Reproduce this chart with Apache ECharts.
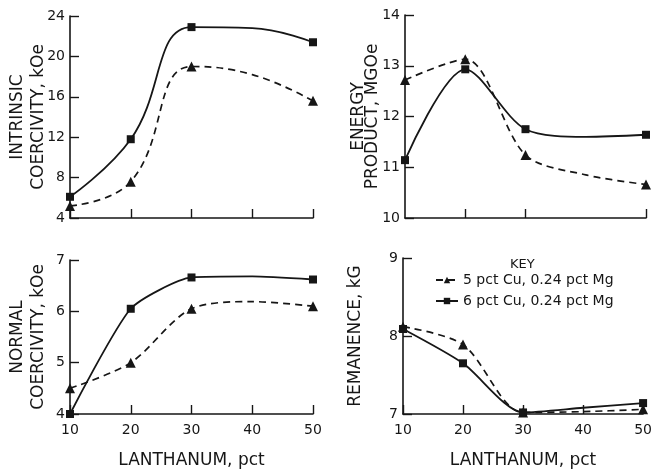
<!DOCTYPE html>
<html>
<head>
<meta charset="utf-8">
<script src="https://cdn.jsdelivr.net/npm/echarts@6/dist/echarts.min.js"></script>
<style>
  html, body { margin: 0; padding: 0; background: #fff; }
  #chart { width: 655px; height: 470px; }
</style>
</head>
<body>
<div id="chart"></div>
<script>
// Lanthanum content, pct (x positions shared by all four panels)
const lanthanum = [10, 20, 30, 40, 50];
// Measured compositions carry markers; 40 pct is a reading off the drawn curve
const measured = [true, true, true, false, true];

const seriesNames = ['5 pct Cu, 0.24 pct Mg', '6 pct Cu, 0.24 pct Mg'];

// Intrinsic coercivity, kOe
const intrinsic5Cu = [5.2, 7.6, 19.0, 18.2, 15.6];
const intrinsic6Cu = [6.1, 11.8, 22.9, 22.8, 21.4];
// Energy product, MGOe
const energy5Cu = [12.72, 13.13, 11.24, 10.85, 10.66];
const energy6Cu = [11.14, 12.93, 11.75, 11.6, 11.64];
// Normal coercivity, kOe
const normal5Cu = [4.5, 5.0, 6.05, 6.19, 6.1];
const normal6Cu = [4.0, 6.05, 6.66, 6.68, 6.62];
// Remanence, kG
const remanence5Cu = [8.12, 7.89, 7.02, 7.03, 7.06];
const remanence6Cu = [8.09, 7.65, 7.02, 7.08, 7.14];

const xTicks = [10, 20, 30, 40, 50];
// The energy-product panel has no tick mark at 40 pct
const energyXTicks = [20, 30, 50];
const yNames = ['INTRINSIC\nCOERCIVITY, kOe', 'ENERGY\nPRODUCT, MGOe', 'NORMAL\nCOERCIVITY, kOe', 'REMANENCE, kG'];
const xName = 'LANTHANUM, pct';

const INK = '#161616';
const FONT = 'DejaVu Sans';

const grids = [
  { left: 70, top: 16, width: 243, height: 202 },
  { left: 405, top: 15, width: 241, height: 203 },
  { left: 70, top: 260, width: 243, height: 154 },
  { left: 403, top: 258, width: 242, height: 157 }
];
const yRanges = [
  { min: 4, max: 24, interval: 4, gap: 21, lh: 21 },
  { min: 10, max: 14, interval: 1, gap: 25, lh: 14 },
  { min: 4, max: 7, interval: 1, gap: 21, lh: 21 },
  { min: 7, max: 9, interval: 1, gap: 38, lh: 18 }
];
// Curve tension per panel: [5 pct Cu, 6 pct Cu]
const tension = [[0.45, 0.45], [0.3, 0.3], [0.3, 0.2], [0.3, 0.25]];

function pairs(ys) {
  return lanthanum.map((x, i) => measured[i]
    ? [x, ys[i]]
    : { value: [x, ys[i]], symbol: 'none' });
}

const xAxes = grids.map((g, i) => {
  const tick = { show: true, inside: true, length: 9, lineStyle: { color: INK, width: 1.4 } };
  if (i === 1) tick.customValues = energyXTicks;
  return {
    type: 'value', gridIndex: i, min: xTicks[0], max: xTicks[xTicks.length - 1], interval: 10,
    axisLine: { show: true, lineStyle: { color: INK, width: 1.6 } },
    axisTick: tick,
    axisLabel: { show: i >= 2, color: INK, fontFamily: FONT, fontSize: 14, margin: 9 },
    splitLine: { show: false },
    name: i >= 2 ? xName : '',
    nameLocation: 'middle', nameGap: 38, nameMoveOverlap: false,
    nameTextStyle: { color: INK, fontFamily: FONT, fontSize: 17 }
  };
});

const yAxes = grids.map((g, i) => ({
  type: 'value', gridIndex: i,
  min: yRanges[i].min, max: yRanges[i].max, interval: yRanges[i].interval,
  axisLine: { show: true, lineStyle: { color: INK, width: 1.6 } },
  axisTick: { show: true, inside: true, length: 9, lineStyle: { color: INK, width: 1.4 } },
  axisLabel: { color: INK, fontFamily: FONT, fontSize: 14, margin: 5 },
  splitLine: { show: false },
  name: yNames[i], nameLocation: 'middle', nameRotate: 90, nameGap: yRanges[i].gap,
  nameMoveOverlap: false,
  nameTextStyle: { color: INK, fontFamily: FONT, fontSize: 17, lineHeight: yRanges[i].lh, align: 'center' }
}));

const panels = [
  [intrinsic5Cu, intrinsic6Cu],
  [energy5Cu, energy6Cu],
  [normal5Cu, normal6Cu],
  [remanence5Cu, remanence6Cu]
];

const series = [];
panels.forEach((pair, i) => {
  series.push({
    name: seriesNames[0], type: 'line', xAxisIndex: i, yAxisIndex: i,
    data: pairs(pair[0]), smooth: tension[i][0],
    symbol: 'triangle', symbolSize: 10,
    itemStyle: { color: INK },
    lineStyle: { color: INK, width: 1.7, type: [7, 5] },
    z: 3
  });
  series.push({
    name: seriesNames[1], type: 'line', xAxisIndex: i, yAxisIndex: i,
    data: pairs(pair[1]), smooth: tension[i][1],
    symbol: 'rect', symbolSize: 8,
    itemStyle: { color: INK },
    lineStyle: { color: INK, width: 1.8 },
    z: 4
  });
});

const chart = echarts.init(document.getElementById('chart'), null, { renderer: 'canvas' });
chart.setOption({
  backgroundColor: '#fff',
  animation: false,
  title: {
    text: 'KEY', left: 505, top: 253,
    textStyle: { color: INK, fontFamily: FONT, fontSize: 13, fontWeight: 'normal' }
  },
  legend: {
    data: seriesNames, orient: 'vertical', left: 430, top: 268,
    itemWidth: 22, itemHeight: 8, itemGap: 7,
    textStyle: { color: INK, fontFamily: FONT, fontSize: 14 },
    selectedMode: false
  },
  grid: grids,
  xAxis: xAxes,
  yAxis: yAxes,
  series: series
});
</script>
</body>
</html>
